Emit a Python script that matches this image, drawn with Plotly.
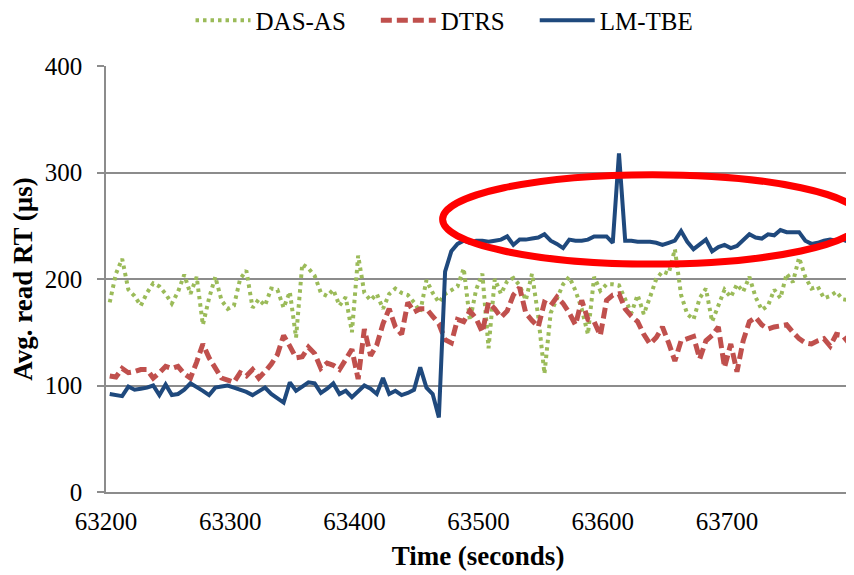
import plotly.graph_objects as go

# time axis: samples every 5 s
t_start = 63203
t_step = 5

das_as = [178, 205, 219, 190, 184, 175, 187, 196, 193, 186, 177, 188, 204, 186, 202, 157, 182, 202, 180, 172,
          175, 200, 208, 173, 181, 175, 191, 190, 173, 188, 145, 214, 210, 203, 187, 184, 190, 175, 183, 150,
          222, 187, 180, 186, 172, 186, 191, 187, 185, 178, 169, 199, 187, 178, 186, 190, 193, 210, 161, 190,
          205, 135, 200, 186, 198, 201, 194, 180, 205, 165, 111, 168, 182, 195, 202, 189, 172, 148, 202, 189,
          195, 195, 194, 180, 168, 185, 167, 183, 200, 207, 205, 228, 185, 167, 162, 182, 191, 160, 175, 190,
          183, 195, 188, 202, 183, 171, 175, 190, 182, 205, 197, 220, 202, 191, 193, 182, 184, 188, 181, 180]

dtrs = [109, 108, 116, 112, 113, 115, 115, 107, 112, 118, 116, 118, 111, 107, 122, 139, 126, 116, 107, 105,
        103, 112, 109, 115, 107, 113, 120, 129, 147, 137, 126, 127, 136, 130, 116, 121, 119, 115, 125, 134,
        106, 153, 128, 138, 158, 172, 155, 148, 178, 169, 172, 172, 165, 158, 143, 140, 162, 160, 170, 163,
        150, 178, 172, 164, 170, 185, 192, 168, 161, 155, 178, 175, 183, 177, 168, 157, 180, 162, 160, 147,
        180, 185, 186, 172, 165, 160, 148, 139, 145, 155, 140, 123, 142, 144, 146, 125, 142, 147, 155, 117,
        139, 113, 142, 160, 164, 157, 153, 155, 156, 157, 150, 144, 140, 139, 142, 144, 137, 148, 147, 140]

lm_tbe = [92, 91, 90, 99, 96, 97, 98, 100, 91, 101, 91, 92, 96, 102, 99, 95, 91, 98, 99, 100,
          98, 96, 94, 91, 95, 98, 92, 88, 84, 103, 95, 99, 103, 102, 93, 97, 102, 92, 95, 89,
          95, 100, 97, 92, 107, 92, 95, 91, 93, 96, 117, 98, 92, 70, 207, 226, 233, 236, 234, 236,
          236, 235, 236, 237, 240, 232, 237, 237, 238, 239, 242, 236, 233, 229, 237, 236, 236, 237, 240, 240,
          240, 234, 318, 236, 236, 235, 235, 235, 234, 232, 234, 236, 245, 235, 228, 233, 237, 226, 230, 232,
          229, 231, 236, 242, 239, 238, 242, 241, 246, 244, 244, 244, 236, 233, 234, 236, 237, 236, 237, 235]

times = [t_start + i * t_step for i in range(len(lm_tbe))]

series_names = ["DAS-AS", "DTRS", "LM-TBE"]
x_ticks = [63200, 63300, 63400, 63500, 63600, 63700]
y_ticks = [0, 100, 200, 300, 400]

# highlight ellipse (data units)
ell_x0, ell_x1 = 63471, 63809
ell_y0, ell_y1 = 214, 298

FAM = "Liberation Serif"
GRID = "#8c8c8c"
PAD = "\u00a0" * 4  # spacing between legend entries

fig = go.Figure()
fig.add_trace(go.Scatter(x=times, y=das_as, mode="lines", name=series_names[0] + PAD,
                         line=dict(color="#9BBB59", width=4, dash="3.5px,4px")))
fig.add_trace(go.Scatter(x=times, y=dtrs, mode="lines", name=series_names[1] + PAD,
                         line=dict(color="#C0504D", width=5, dash="11px,5px")))
fig.add_trace(go.Scatter(x=times, y=lm_tbe, mode="lines", name=series_names[2],
                         line=dict(color="#1F497D", width=4)))

fig.add_shape(type="circle", xref="x", yref="y",
              x0=ell_x0, x1=ell_x1, y0=ell_y0, y1=ell_y1,
              line=dict(color="#FF0000", width=7), layer="above")

# page body has an 8px margin: figure is offset by 8px in the window
fig.update_layout(
    width=846, height=567,
    margin=dict(l=98, r=4, t=58, b=83, autoexpand=False),
    paper_bgcolor="white", plot_bgcolor="white",
    font=dict(family=FAM, size=25, color="black"),
    showlegend=True,
    legend=dict(orientation="h", x=0.455, xanchor="center", y=1.107, yref="paper",
                yanchor="middle", font=dict(family=FAM, size=25, color="black"),
                itemwidth=55, bgcolor="rgba(0,0,0,0)", tracegroupgap=0),
)
fig.update_xaxes(range=[63200, 63799], tickvals=x_ticks, tickformat="d",
                 showgrid=False, zeroline=False,
                 showline=True, linecolor=GRID, linewidth=1.5, ticks="",
                 ticklabelstandoff=6, automargin=False,
                 tickfont=dict(family=FAM, size=25, color="black"),
                 title=dict(text="<b>Time (seconds)</b>",
                            font=dict(family=FAM, size=27, color="black"), standoff=12))
fig.update_yaxes(range=[0, 400], tickvals=y_ticks, showgrid=True, gridcolor=GRID, gridwidth=1.5,
                 zeroline=False, showline=True, linecolor=GRID, linewidth=1.5,
                 ticks="outside", ticklen=7, tickcolor=GRID, tickwidth=1.5,
                 ticklabelstandoff=10, automargin=False,
                 tickfont=dict(family=FAM, size=25, color="black"),
                 title=dict(text="<b>Avg. read RT (µs)</b>",
                            font=dict(family=FAM, size=27, color="black"), standoff=5))

fig.write_html("out.html")
